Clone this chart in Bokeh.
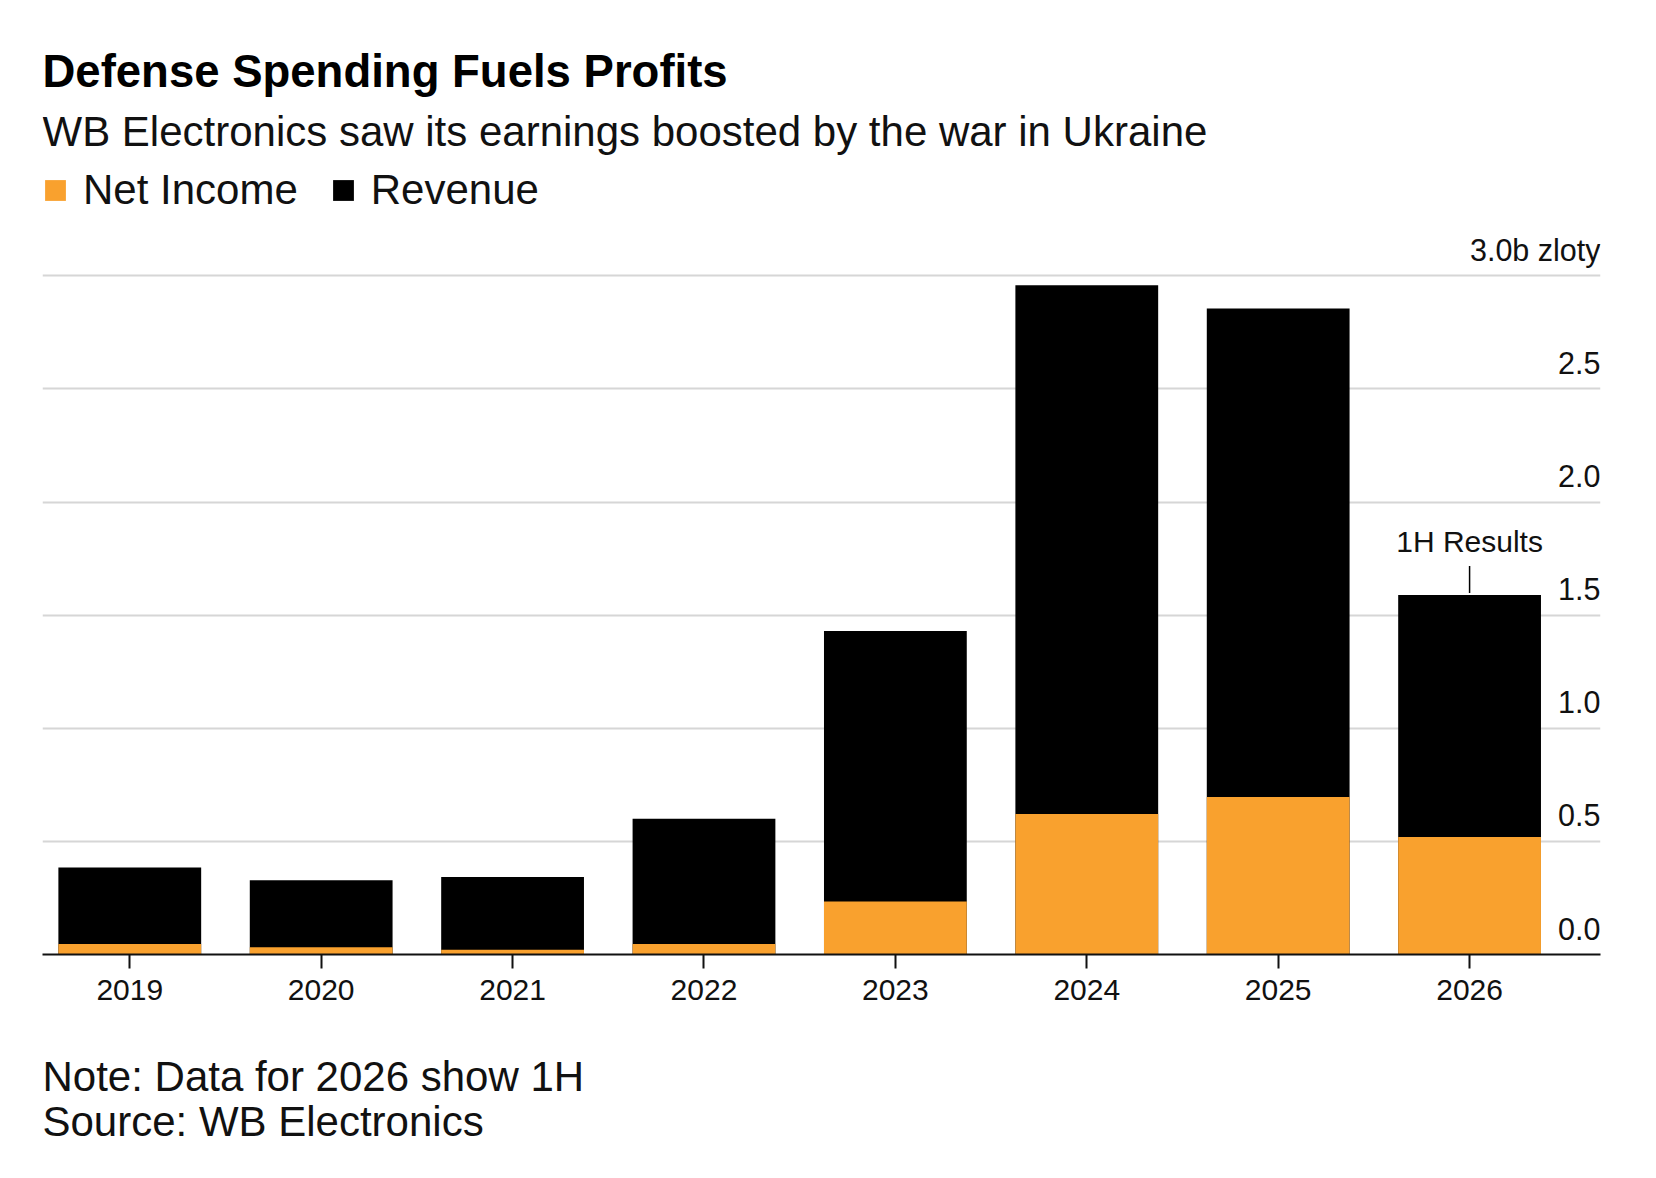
from bokeh.plotting import figure
from bokeh.layouts import column
from bokeh.models import (Range1d, FixedTicker, Label, Legend, LegendItem, ColumnDataSource)
from bokeh.embed import file_html
from bokeh.resources import INLINE

# ---- data ----
years = [2019, 2020, 2021, 2022, 2023, 2024, 2025, 2026]
year_labels = ["2019", "2020", "2021", "2022", "2023", "2024", "2025", "2026"]
revenue = [0.385, 0.328, 0.342, 0.600, 1.430, 2.958, 2.855, 1.589]
net_income = [0.046, 0.032, 0.021, 0.046, 0.234, 0.621, 0.696, 0.519]
y_ticks = [0.0, 0.5, 1.0, 1.5, 2.0, 2.5, 3.0]
y_tick_labels = ["0.0", "0.5", "1.0", "1.5", "2.0", "2.5", "3.0b zloty"]

title = "Defense Spending Fuels Profits"
subtitle = "WB Electronics saw its earnings boosted by the war in Ukraine"
note = "Note: Data for 2026 show 1H"
source = "Source: WB Electronics"
annotation = "1H Results"

ORANGE = "#F9A12E"
BLACK = "#000000"
FONT = "Liberation Sans"
TEXT = "#111111"

FRAME_H = 954          # frame height of the main figure (px)
Y_TOP = 4.2166         # data value at the top of the frame
PX = Y_TOP / FRAME_H   # data units per pixel

src = ColumnDataSource(dict(x=years, rev=revenue, ni=net_income))

p = figure(width=1640, height=1024, output_backend="svg", toolbar_location=None,
           x_range=Range1d(2018.544, 2026.684), y_range=Range1d(0, Y_TOP),
           y_axis_location=None, min_border_left=42, min_border_right=40,
           min_border_top=0, min_border_bottom=70)
p.outline_line_color = None
p.background_fill_color = "white"
p.border_fill_color = "white"

rev_r = p.vbar(x="x", top="rev", bottom=0, width=0.746, source=src,
               fill_color=BLACK, line_color=None)
ni_r = p.vbar(x="x", top="ni", bottom=0, width=0.746, source=src,
              fill_color=ORANGE, line_color=None)

# grid
p.xgrid.visible = False
p.ygrid.ticker = FixedTicker(ticks=y_ticks)
p.ygrid.grid_line_color = "#d6d6d6"
p.ygrid.grid_line_width = 2

# x axis
xa = p.xaxis[0]
xa.ticker = FixedTicker(ticks=years)
xa.major_label_overrides = {y: l for y, l in zip(years, year_labels)}
xa.axis_line_color = "#111111"
xa.axis_line_width = 2
xa.major_tick_line_color = "#111111"
xa.major_tick_line_width = 2
xa.major_tick_out = 14
xa.major_tick_in = 0
xa.minor_tick_line_color = None
xa.major_label_standoff = 11
xa.major_label_text_font = FONT
xa.major_label_text_font_size = "30px"
xa.major_label_text_color = TEXT

# y tick labels (sitting above the gridlines, right-aligned)
for t, lab in zip(y_ticks, y_tick_labels):
    p.add_layout(Label(x=p.x_range.end, y=t + 26 * PX, text=lab, text_align="right",
                       text_baseline="middle",
                       text_font=FONT, text_font_size="30.5px", text_color=TEXT))

# 1H annotation
p.segment(x0=[years[-1]], x1=[years[-1]], y0=[revenue[-1] + 2 * PX],
          y1=[revenue[-1] + 29 * PX], line_color=BLACK, line_width=1.5)
p.add_layout(Label(x=years[-1], y=revenue[-1] + 53 * PX, text=annotation,
                   text_align="center", text_baseline="middle",
                   text_font=FONT, text_font_size="30px", text_color=TEXT))

# titles (screen units relative to frame bottom-left)
p.add_layout(Label(x=0, y=883, x_units="screen", y_units="screen", text=title,
                   text_font=FONT, text_font_style="bold", text_font_size="45.5px",
                   text_color=BLACK, text_baseline="middle"))
p.add_layout(Label(x=0, y=823, x_units="screen", y_units="screen", text=subtitle,
                   text_font=FONT, text_font_size="42px", text_color=TEXT,
                   text_baseline="middle"))

# legend
legend = Legend(items=[LegendItem(label="Net Income", renderers=[ni_r]),
                       LegendItem(label="Revenue", renderers=[rev_r])],
                location=(0, 740), orientation="horizontal")
legend.glyph_width = 26
legend.glyph_height = 26
legend.label_standoff = 15
legend.spacing = 32
legend.padding = 0
legend.margin = 0
legend.border_line_color = None
legend.background_fill_alpha = 0
legend.label_text_font = FONT
legend.label_text_font_size = "42px"
legend.label_text_color = TEXT
p.add_layout(legend, "center")

# notes figure
NOTES_H = 146
q = figure(width=1640, height=NOTES_H, output_backend="svg", toolbar_location=None,
           x_axis_location=None, y_axis_location=None, x_range=Range1d(0, 1),
           y_range=Range1d(0, 1), min_border_left=42, min_border_right=40,
           min_border_top=0, min_border_bottom=0)
q.outline_line_color = None
q.xgrid.visible = False
q.ygrid.visible = False
q.add_layout(Label(x=0, y=94, x_units="screen", y_units="screen", text=note,
                   text_font=FONT, text_font_size="42px", text_color=TEXT,
                   text_baseline="middle"))
q.add_layout(Label(x=0, y=49, x_units="screen", y_units="screen", text=source,
                   text_font=FONT, text_font_size="42px", text_color=TEXT,
                   text_baseline="middle"))

layout = column(p, q)
open("out.html", "w").write(file_html(layout, INLINE))
